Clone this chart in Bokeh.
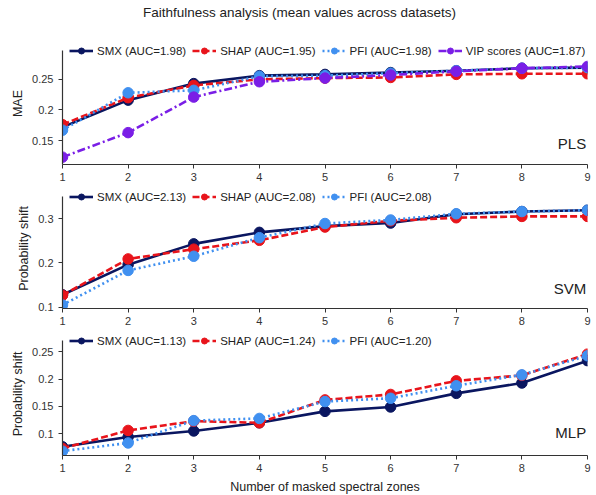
from bokeh.plotting import figure
from bokeh.models import FixedTicker, Legend, LegendItem, Label, Range1d
from bokeh.layouts import column
from bokeh.embed import file_html
from bokeh.resources import INLINE

zones = [1, 2, 3, 4, 5, 6, 7, 8, 9]

# PLS (MAE)
pls_smx = [0.172, 0.216, 0.243, 0.256, 0.258, 0.261, 0.264, 0.268, 0.269]
pls_shap = [0.176, 0.220, 0.240, 0.250, 0.252, 0.253, 0.258, 0.259, 0.259]
pls_pfi = [0.167, 0.228, 0.232, 0.255, 0.256, 0.260, 0.264, 0.268, 0.269]
pls_vip = [0.123, 0.163, 0.221, 0.246, 0.252, 0.257, 0.263, 0.268, 0.271]

# SVM (probability shift)
svm_smx = [0.128, 0.196, 0.243, 0.269, 0.283, 0.290, 0.310, 0.316, 0.319]
svm_shap = [0.127, 0.209, 0.231, 0.251, 0.281, 0.295, 0.302, 0.305, 0.305]
svm_pfi = [0.105, 0.183, 0.215, 0.257, 0.289, 0.297, 0.311, 0.316, 0.319]

# MLP (probability shift)
mlp_smx = [0.076, 0.094, 0.105, 0.120, 0.141, 0.149, 0.174, 0.193, 0.234]
mlp_shap = [0.073, 0.106, 0.123, 0.120, 0.162, 0.172, 0.197, 0.207, 0.246]
mlp_pfi = [0.068, 0.083, 0.124, 0.128, 0.159, 0.165, 0.188, 0.208, 0.243]

labels_pls = ["SMX (AUC=1.98)", "SHAP (AUC=1.95)", "PFI (AUC=1.98)", "VIP scores (AUC=1.87)"]
labels_svm = ["SMX (AUC=2.13)", "SHAP (AUC=2.08)", "PFI (AUC=2.08)"]
labels_mlp = ["SMX (AUC=1.13)", "SHAP (AUC=1.24)", "PFI (AUC=1.20)"]

TITLE = "Faithfulness analysis (mean values across datasets)"

COLORS = ["#0a1660", "#e8141b", "#4090f0", "#7a1ee6"]
DASHES = ["solid", "7 3", "2 3", "8 3 2 3"]
FONT = "Liberation Sans"

def make_panel(series, labels, ylo, yhi, yticks, ylabel, model, model_y, frame_h, top, bottom, xlabel=None):
    # extra headroom above the axis for the legend (8 px)
    extra = (yhi - ylo) / (frame_h - 8) * 8
    p = figure(frame_width=525, frame_height=frame_h, min_border_left=62, min_border_right=6,
               min_border_top=top, min_border_bottom=bottom,
               x_range=Range1d(1, 9), y_range=Range1d(ylo, yhi + extra),
               output_backend="svg", toolbar_location=None)
    p.outline_line_color = None
    p.xgrid.visible = False
    p.ygrid.visible = False
    for ax in (p.xaxis[0], p.yaxis[0]):
        ax.axis_line_color = "#333333"
        ax.axis_line_width = 1.2
        ax.major_tick_line_color = "#333333"
        ax.major_tick_in = 0
        ax.major_tick_out = 4
        ax.minor_tick_line_color = None
        ax.major_label_text_font = FONT
        ax.major_label_text_font_size = "11px"
        ax.major_label_text_color = "#333333"
        ax.axis_label_text_font = FONT
        ax.axis_label_text_font_style = "normal"
        ax.axis_label_text_font_size = "12.5px"
        ax.axis_label_text_color = "#222222"
    p.xaxis.ticker = FixedTicker(ticks=zones)
    p.xaxis.major_label_standoff = 4
    p.yaxis.ticker = FixedTicker(ticks=yticks)
    p.yaxis.bounds = (ylo, yhi)
    p.yaxis.major_label_overrides = {t: ("%g" % t) for t in yticks}
    p.yaxis.axis_label = ylabel
    p.yaxis.axis_label_standoff = 4
    if xlabel:
        p.xaxis.axis_label = xlabel
        p.xaxis.axis_label_standoff = 5

    items = []
    for i, (ys, lab) in enumerate(zip(series, labels)):
        ln = p.line(zones, ys, line_color=COLORS[i], line_width=2.6, line_dash=DASHES[i])
        sc = p.scatter(zones, ys, marker="circle", size=10.5, fill_color=COLORS[i], line_color=COLORS[i])
        items.append(LegendItem(label=lab, renderers=[ln, sc]))
    leg = Legend(items=items, orientation="horizontal", location=(7, frame_h - 16),
                 label_text_font=FONT, label_text_font_size="11.5px", label_text_color="#222222",
                 glyph_width=24, glyph_height=15, label_standoff=4, spacing=6,
                 padding=0, margin=0, background_fill_alpha=0, border_line_alpha=0,
                 label_height=15)
    p.add_layout(leg)
    p.add_layout(Label(x=8.98, y=model_y, text=model, text_align="right", text_baseline="middle",
                       text_font=FONT, text_font_size="15px", text_color="#222222"))
    return p

# title strip: an axis-less figure whose frame (aligned with the panels' frames) holds the title
pt = figure(frame_width=525, frame_height=30, min_border_left=62, min_border_right=6,
            min_border_top=0, min_border_bottom=0,
            x_range=Range1d(0, 525), y_range=Range1d(0, 30),
            x_axis_location=None, y_axis_location=None,
            output_backend="svg", toolbar_location=None)
pt.outline_line_color = None
pt.xgrid.visible = False
pt.ygrid.visible = False
pt.add_layout(Label(x=237, y=18, text=TITLE, text_align="center", text_baseline="middle",
                    text_font=FONT, text_font_size="13.5px", text_color="#222222"))

p1 = make_panel([pls_smx, pls_shap, pls_pfi, pls_vip], labels_pls, 0.111, 0.297,
                [0.15, 0.2, 0.25], "MAE", "PLS", 0.145, 122, 12, 24)
p2 = make_panel([svm_smx, svm_shap, svm_pfi], labels_svm, 0.097, 0.35,
                [0.1, 0.2, 0.3], "Probability shift", "SVM", 0.142, 120, 0, 24)
p3 = make_panel([mlp_smx, mlp_shap, mlp_pfi], labels_mlp, 0.060, 0.271,
                [0.1, 0.15, 0.2, 0.25], "Probability shift", "MLP", 0.102, 123, 0, 37,
                xlabel="Number of masked spectral zones")

layout = column(pt, p1, p2, p3, spacing=0)
open("out.html", "w").write(file_html(layout, INLINE))
